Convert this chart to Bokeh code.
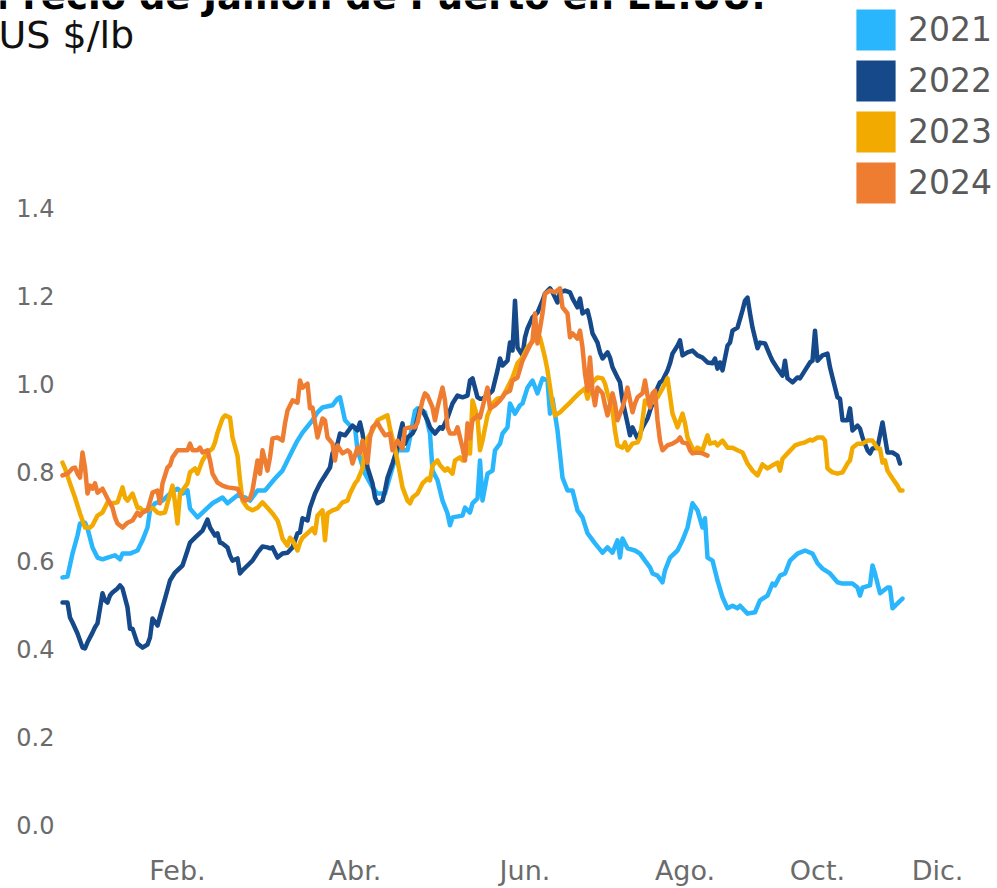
from bokeh.plotting import figure
from bokeh.models import Label, Legend, LegendItem, FixedTicker, PrintfTickFormatter, Range1d
from bokeh.embed import file_html
from bokeh.resources import INLINE

# ---------------- data ----------------
anios = ["2021", "2022", "2023", "2024"]
colores = ["#29B6FD", "#15498A", "#F2A900", "#EE7D32"]

titulo = "Precio de Jamón de Puerto en EE.UU."
subtitulo = "US $/lb"

meses_pos = [46, 117, 185, 249, 302, 350]
meses_txt = ["Feb.", "Abr.", "Jun.", "Ago.", "Oct.", "Dic."]
y_ticks = [0.0, 0.2, 0.4, 0.6, 0.8, 1.0, 1.2, 1.4]

# (dia, US$/lb)
serie_2021 = [(0,0.562),(2,0.564),(4,0.616),(6,0.657),(7,0.684),(9,0.686),(10,0.673),(12,0.630),(14,0.607),(16,0.603),
(18,0.607),(21,0.612),(23,0.603),(24,0.616),(27,0.616),(30,0.623),(32,0.646),(34,0.675),(35,0.714),(37,0.730),
(40,0.736),(43,0.752),(46,0.763),(48,0.752),(50,0.759),(51,0.718),(54,0.698),(56,0.709),(60,0.730),(64,0.743),
(66,0.730),(70,0.748),(73,0.743),(75,0.736),(78,0.759),(81,0.759),(85,0.786),(88,0.804),(92,0.850),(94,0.872),
(96,0.890),(100,0.918),(102,0.936),(104,0.947),(108,0.952),(110,0.967),(111,0.970),(113,0.918),(115,0.906),(117,0.902),
(118,0.850),(121,0.797),(124,0.766),(126,0.752),(129,0.752),(132,0.811),(134,0.850),(138,0.850),(139,0.879),(141,0.940),
(142,0.945),(145,0.936),(147,0.888),(148,0.804),(150,0.782),(152,0.736),(154,0.707),(155,0.680),(156,0.698),(160,0.702),
(161,0.720),(163,0.709),(164,0.730),(166,0.741),(167,0.827),(168,0.736),(170,0.797),(172,0.804),(173,0.850),(175,0.865),
(176,0.888),(178,0.902),(179,0.956),(181,0.933),(183,0.952),(184,0.956),(186,0.992),(188,1.008),(190,0.979),(192,1.013),
(194,1.008),(195,0.933),(196,0.967),(198,0.895),(200,0.788),(202,0.759),(204,0.759),(206,0.714),(208,0.698),(210,0.662),
(213,0.639),(216,0.618),(218,0.630),(220,0.618),(222,0.646),(223,0.607),(224,0.650),(226,0.628),(229,0.623),(231,0.616),
(233,0.600),(235,0.585),(236,0.571),(238,0.566),(240,0.551),(241,0.578),(243,0.607),(246,0.623),(248,0.646),(250,0.675),
(252,0.730),(254,0.714),(256,0.675),(257,0.696),(258,0.607),(260,0.600),(262,0.555),(264,0.517),(266,0.492),(268,0.498),
(270,0.492),(271,0.498),(274,0.480),(277,0.483),(279,0.510),(282,0.521),(284,0.548),(285,0.544),(287,0.566),(289,0.571),
(291,0.600),(294,0.616),(297,0.623),(300,0.616),(302,0.594),(304,0.582),(307,0.571),(310,0.551),(312,0.548),(316,0.548),
(318,0.539),(319,0.521),(320,0.539),(323,0.544),(324,0.589),(325,0.571),(327,0.526),(330,0.539),(331,0.539),(332,0.492),
(334,0.503),(336,0.514)]

serie_2022 = [(0,0.505),(2,0.505),(3,0.471),(4,0.460),(6,0.435),(8,0.403),(9,0.401),(10,0.415),(12,0.437),(13,0.449),
(14,0.458),(16,0.526),(17,0.510),(18,0.505),(19,0.521),(20,0.528),(22,0.537),(23,0.544),(24,0.537),(26,0.494),
(27,0.446),(28,0.446),(30,0.412),(32,0.403),(34,0.410),(35,0.426),(36,0.469),(38,0.453),(40,0.494),(41,0.514),
(43,0.555),(45,0.573),(48,0.589),(50,0.623),(51,0.641),(53,0.652),(56,0.668),(58,0.693),(59,0.675),(61,0.657),
(62,0.662),(63,0.641),(64,0.639),(66,0.630),(67,0.612),(68,0.600),(70,0.605),(71,0.571),(72,0.578),(74,0.589),
(76,0.600),(78,0.618),(80,0.632),(82,0.630),(83,0.628),(84,0.630),(86,0.607),(88,0.616),(90,0.618),(92,0.630),
(94,0.662),(95,0.664),(96,0.696),(98,0.691),(99,0.720),(101,0.752),(103,0.775),(105,0.793),(107,0.811),(108,0.843),
(110,0.865),(111,0.888),(113,0.884),(115,0.899),(116,0.906),(118,0.895),(119,0.913),(120,0.888),(121,0.850),(122,0.811),
(124,0.775),(125,0.743),(126,0.730),(128,0.736),(129,0.759),(130,0.788),(132,0.820),(134,0.856),(135,0.888),(136,0.911),
(137,0.865),(138,0.879),(140,0.888),(141,0.899),(143,0.945),(144,0.940),(146,0.918),(147,0.902),(149,0.888),(151,0.902),
(152,0.899),(154,0.924),(156,0.956),(158,0.974),(160,0.970),(162,0.974),(163,1.008),(164,1.013),(166,0.970),(167,0.967),
(168,0.967),(170,0.974),(172,0.985),(174,1.031),(175,1.058),(176,1.042),(178,1.053),(179,1.094),(180,1.076),(181,1.189),
(182,1.083),(184,1.065),(185,1.106),(186,1.126),(188,1.151),(190,1.162),(192,1.189),(193,1.205),(195,1.217),(196,1.208),
(198,1.185),(199,1.208),(201,1.212),(203,1.208),(204,1.194),(206,1.174),(207,1.194),(208,1.160),(210,1.167),(211,1.144),
(212,1.115),(214,1.094),(215,1.072),(216,1.058),(218,1.072),(219,1.060),(220,1.038),(222,1.015),(223,1.004),(224,0.963),
(226,0.911),(227,0.884),(228,0.902),(230,0.877),(231,0.888),(232,0.902),(234,0.922),(235,0.940),(236,0.956),(238,0.992),
(239,1.004),(240,1.008),(242,1.031),(243,1.047),(244,1.069),(246,1.087),(247,1.099),(248,1.065),(250,1.072),(252,1.076),
(254,1.065),(256,1.060),(258,1.049),(260,1.047),(261,1.058),(262,1.035),(263,1.049),(264,1.031),(266,1.087),(267,1.094),
(268,1.121),(270,1.128),(272,1.167),(273,1.189),(274,1.196),(275,1.160),(276,1.128),(278,1.081),(279,1.094),(281,1.092),
(283,1.065),(284,1.053),(286,1.035),(288,1.019),(289,1.053),(290,1.013),(292,1.004),(294,1.015),(295,1.013),(297,1.031),
(299,1.049),(300,1.053),(301,1.121),(302,1.053),(304,1.065),(306,1.069),(307,1.038),(308,1.015),(310,0.970),(311,0.967),
(312,0.918),(314,0.918),(315,0.945),(316,0.895),(318,0.906),(319,0.899),(320,0.879),(322,0.850),(323,0.843),(324,0.854),
(326,0.856),(328,0.913),(329,0.879),(330,0.845),(332,0.845),(334,0.838),(335,0.820)]

serie_2023 = [(0,0.822),(1,0.809),(3,0.775),(5,0.743),(7,0.707),(9,0.675),(11,0.675),(12,0.680),(14,0.702),(16,0.709),
(18,0.732),(20,0.730),(22,0.732),(24,0.766),(25,0.743),(26,0.736),(28,0.752),(30,0.720),(31,0.720),(32,0.714),
(34,0.714),(36,0.720),(38,0.709),(39,0.707),(41,0.709),(42,0.730),(44,0.770),(45,0.732),(46,0.684),(47,0.752),
(48,0.759),(50,0.775),(51,0.800),(53,0.809),(54,0.797),(56,0.827),(58,0.845),(60,0.854),(61,0.868),(62,0.890),
(64,0.922),(65,0.929),(67,0.924),(68,0.879),(70,0.838),(71,0.782),(72,0.736),(74,0.720),(76,0.714),(78,0.720),
(80,0.732),(82,0.720),(84,0.707),(86,0.691),(87,0.673),(88,0.650),(90,0.634),(91,0.652),(92,0.646),(94,0.623),
(95,0.641),(96,0.652),(98,0.662),(100,0.673),(101,0.662),(102,0.702),(104,0.714),(105,0.646),(106,0.707),(108,0.714),
(110,0.718),(112,0.732),(114,0.736),(115,0.752),(117,0.775),(118,0.782),(120,0.809),(121,0.850),(122,0.877),(124,0.895),
(126,0.918),(128,0.924),(130,0.929),(131,0.899),(133,0.854),(135,0.797),(136,0.766),(138,0.736),(139,0.730),(140,0.743),
(142,0.752),(144,0.775),(146,0.786),(147,0.782),(148,0.816),(150,0.827),(151,0.816),(153,0.804),(154,0.809),(156,0.797),
(157,0.827),(159,0.834),(160,0.827),(162,0.845),(163,0.843),(164,0.963),(166,0.924),(167,0.850),(168,0.872),(170,0.929),
(172,0.956),(174,0.967),(176,0.970),(178,0.992),(180,1.015),(182,1.047),(184,1.060),(186,1.083),(187,1.090),(189,1.101),
(191,1.106),(193,1.060),(194,1.031),(196,0.956),(197,0.929),(199,0.936),(201,0.947),(203,0.958),(205,0.970),(207,0.981),
(209,0.990),(210,0.967),(212,1.004),(214,1.015),(216,1.013),(217,1.001),(218,0.979),(220,0.940),(221,0.895),(222,0.861),
(224,0.856),(225,0.868),(226,0.850),(228,0.865),(230,0.868),(231,0.879),(232,0.918),(233,0.963),(234,0.956),(236,0.958),
(238,0.970),(240,0.990),(242,1.013),(244,0.933),(245,0.918),(246,0.902),(248,0.933),(249,0.911),(250,0.879),(252,0.854),
(253,0.850),(254,0.856),(256,0.850),(258,0.884),(259,0.865),(261,0.868),(262,0.861),(264,0.872),(266,0.856),(268,0.856),
(270,0.850),(272,0.845),(274,0.820),(276,0.804),(278,0.793),(280,0.818),(282,0.809),(284,0.816),(286,0.822),(287,0.804),
(288,0.831),(290,0.843),(293,0.861),(295,0.865),(297,0.868),(299,0.874),(300,0.872),(302,0.879),(304,0.879),(305,0.872),
(306,0.809),(308,0.800),(310,0.797),(312,0.800),(314,0.820),(315,0.827),(316,0.856),(318,0.865),(320,0.865),(322,0.872),
(324,0.872),(326,0.854),(327,0.854),(328,0.822),(329,0.827),(330,0.804),(332,0.786),(334,0.770),(335,0.759),(336,0.759)]

serie_2024 = [(0,0.793),(2,0.797),(4,0.809),(5,0.811),(6,0.797),(7,0.788),(8,0.845),(9,0.811),(10,0.752),(11,0.770),
(12,0.763),(13,0.775),(14,0.754),(16,0.763),(17,0.752),(18,0.741),(20,0.720),(21,0.698),(22,0.684),(24,0.675),
(26,0.686),(28,0.691),(30,0.709),(31,0.702),(32,0.709),(34,0.714),(36,0.754),(38,0.759),(39,0.730),(40,0.775),
(42,0.811),(43,0.816),(44,0.834),(46,0.850),(48,0.850),(50,0.850),(51,0.865),(52,0.850),(54,0.850),(55,0.856),
(56,0.845),(58,0.850),(59,0.827),(60,0.797),(62,0.777),(64,0.770),(66,0.766),(70,0.763),(72,0.741),(73,0.736),
(75,0.741),(76,0.759),(78,0.827),(79,0.797),(80,0.850),(82,0.804),(83,0.834),(84,0.877),(86,0.879),(88,0.872),
(89,0.911),(90,0.940),(92,0.963),(94,0.958),(95,1.008),(96,0.992),(98,1.001),(99,0.945),(100,0.947),(102,0.879),
(104,0.922),(105,0.918),(106,0.879),(108,0.865),(109,0.827),(110,0.861),(112,0.843),(114,0.850),(115,0.845),(116,0.820),
(118,0.856),(119,0.843),(120,0.872),(122,0.822),(123,0.879),(124,0.902),(126,0.913),(127,0.902),(129,0.884),(131,0.888),
(132,0.850),(134,0.872),(136,0.854),(137,0.899),(139,0.902),(141,0.902),(142,0.913),(144,0.963),(145,0.979),(146,0.974),
(148,0.947),(149,0.918),(150,0.947),(152,0.992),(153,0.963),(154,0.902),(155,0.888),(157,0.888),(158,0.902),(160,0.856),
(161,0.827),(162,0.911),(163,0.877),(164,0.918),(166,0.929),(167,0.924),(168,0.947),(170,0.992),(171,0.945),(173,0.952),
(175,0.963),(177,0.979),(179,0.985),(180,1.008),(182,1.015),(184,1.053),(186,1.076),(188,1.099),(189,1.160),(190,1.092),
(192,1.160),(193,1.205),(195,1.212),(197,1.208),(199,1.217),(200,1.174),(202,1.160),(203,1.106),(204,1.115),(206,1.103),
(207,1.121),(208,1.083),(209,1.024),(210,0.985),(211,1.060),(212,0.985),(213,0.952),(214,0.992),(216,0.979),(217,0.952),
(218,0.929),(220,0.979),(221,0.956),(222,0.918),(224,0.947),(225,0.967),(226,0.992),(228,0.936),(229,0.956),(230,0.970),
(232,0.979),(233,1.008),(234,0.974),(235,0.947),(236,0.979),(237,0.985),(238,0.918),(239,0.872),(240,0.850),(242,0.861),
(244,0.865),(246,0.872),(247,0.879),(248,0.868),(250,0.865),(251,0.850),(252,0.843),(254,0.845),(256,0.843),(258,0.838)]

series = [serie_2021, serie_2022, serie_2023, serie_2024]

# ---------------- figure ----------------
FONT = "DejaVu Sans"
W, H = 995, 886
p = figure(width=W, height=H, output_backend="svg", toolbar_location=None, title=None,
           x_range=Range1d(-24.8, 373.2), y_range=Range1d(-0.1382, 1.869),
           min_border_left=0, min_border_right=0, min_border_top=0, min_border_bottom=0)
p.outline_line_color = None
p.xgrid.visible = False
p.ygrid.visible = False
p.background_fill_color = "white"
p.border_fill_color = "white"

for serie, col in zip(series, colores):
    xs = [d for d, v in serie]
    ys = [v for d, v in serie]
    p.line(xs, ys, line_color=col, line_width=4.5, line_join="round", line_cap="round")

# axes (drawn at fixed positions inside the canvas)
p.yaxis.ticker = FixedTicker(ticks=y_ticks)
p.yaxis.formatter = PrintfTickFormatter(format="%.1f")
p.yaxis.fixed_location = 0
p.yaxis.major_label_standoff = 2
p.yaxis.major_label_text_font_size = "24px"
p.xaxis.ticker = FixedTicker(ticks=meses_pos)
p.xaxis.major_label_overrides = {pos: txt for pos, txt in zip(meses_pos, meses_txt)}
p.xaxis.fixed_location = -0.034
p.xaxis.major_label_standoff = 8
p.xaxis.major_label_text_font_size = "27px"
for ax in (p.xaxis[0], p.yaxis[0]):
    ax.axis_line_color = None
    ax.major_tick_line_color = None
    ax.minor_tick_line_color = None
    ax.major_label_text_font = FONT
    ax.major_label_text_color = "#6b6b6b"

# legend-only renderers (square swatches; NaN coordinates so nothing is drawn in the plot)
nan = float("nan")
items = []
for anio, col in zip(anios, colores):
    r = p.quad(left=[nan], right=[nan], top=[nan], bottom=[nan], fill_color=col, line_color=None)
    items.append(LegendItem(label=anio, renderers=[r]))
legend = Legend(items=items, location=(851, 678), orientation="vertical",
                glyph_width=49, glyph_height=51, label_standoff=8, spacing=0,
                padding=0, margin=0, border_line_color=None, background_fill_alpha=0,
                label_text_font=FONT, label_text_font_size="33px", label_text_color="#595959")
p.add_layout(legend)

# title / subtitle
p.add_layout(Label(x=-26.8, y=1.878, text=titulo, text_font=FONT, text_font_size="37px",
                   text_font_style="bold", text_color="black", text_baseline="alphabetic"))
p.add_layout(Label(x=-25.6, y=1.790, text=subtitulo, text_font=FONT, text_font_size="38px",
                   text_color="#111111", text_baseline="alphabetic"))

open("out.html", "w").write(file_html(p, INLINE))
